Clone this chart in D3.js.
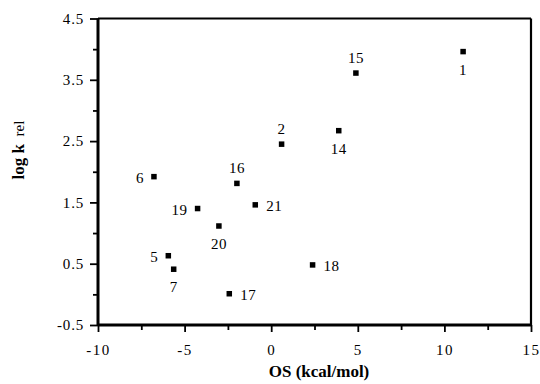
<!DOCTYPE html>
<html>
<head>
<meta charset="utf-8">
<script src="https://cdn.jsdelivr.net/npm/d3@7"></script>
<style>
html,body{margin:0;padding:0;background:#fff;}
svg{display:block;}
text{font-family:"Liberation Serif","Times New Roman",serif;fill:#000;}
</style>
</head>
<body>
<svg id="chart" width="540" height="384"></svg>
<script>
// Data
const ids      = ["1","15","2","14","6","16","19","21","20","5","7","17","18"];
const osValues = [11.08, 4.89, 0.6, 3.9, -6.77, -1.98, -4.25, -0.92, -3.02, -5.94, -5.63, -2.42, 2.39];
const logKrel  = [3.96, 3.61, 2.45, 2.67, 1.92, 1.81, 1.40, 1.46, 1.115, 0.63, 0.41, 0.01, 0.48];
const labelSide = ["below","above","above","below","left","above","left","right","below","left","below","right","right"];
const xTicks = [-10, -5, 0, 5, 10, 15];
const xMinorTicks = [-7.5, -2.5, 2.5, 7.5, 12.5];
const yTicks = [-0.5, 0.5, 1.5, 2.5, 3.5, 4.5];
const yMinorTicks = [0, 1, 2, 3, 4];

const svg = d3.select("#chart");
const L = 98, R = 531, T = 18.5, B = 325;
const x = d3.scaleLinear().domain([-10, 15]).range([L, R]);
const y = d3.scaleLinear().domain([-0.5, 4.5]).range([B, T]);
const fmt = d => String(d).replace("\u2212", "-");

// frame (top, right) and axes lines
svg.append("line").attr("x1", L).attr("x2", R).attr("y1", T).attr("y2", T)
  .attr("stroke", "#000").attr("stroke-width", 2.2);
svg.append("line").attr("x1", R).attr("x2", R).attr("y1", T).attr("y2", B)
  .attr("stroke", "#000").attr("stroke-width", 2.2);
svg.append("line").attr("x1", L).attr("x2", R).attr("y1", B).attr("y2", B)
  .attr("stroke", "#000").attr("stroke-width", 2.8);
svg.append("line").attr("x1", L).attr("x2", L).attr("y1", T).attr("y2", B)
  .attr("stroke", "#000").attr("stroke-width", 3);

// x axis ticks/labels
const xAxis = svg.append("g").attr("transform", `translate(0,${B})`)
  .call(d3.axisBottom(x).tickValues(xTicks).tickSize(7).tickSizeOuter(0).tickPadding(12).tickFormat(d => fmt(d)));
xAxis.select(".domain").remove();
xAxis.attr("font-family", null).attr("font-size", null);
xAxis.selectAll(".tick line").attr("stroke", "#000").attr("stroke-width", 1.8);
xAxis.selectAll("text").attr("font-size", 15).attr("letter-spacing", 1.5);
svg.append("g").attr("transform", `translate(0,${B})`)
  .call(d3.axisBottom(x).tickValues(xMinorTicks).tickSize(5).tickFormat(""))
  .call(g => g.select(".domain").remove())
  .selectAll(".tick line").attr("stroke", "#000").attr("stroke-width", 1.8);

// y axis ticks/labels
const yAxis = svg.append("g").attr("transform", `translate(${L},0)`)
  .call(d3.axisLeft(y).tickValues(yTicks).tickSize(8).tickSizeOuter(0).tickPadding(6).tickFormat(d => fmt(d.toFixed(1))));
yAxis.select(".domain").remove();
yAxis.attr("font-family", null).attr("font-size", null);
yAxis.selectAll(".tick line").attr("stroke", "#000").attr("stroke-width", 1.8);
yAxis.selectAll("text").attr("font-size", 15).attr("letter-spacing", 0.8);
svg.append("g").attr("transform", `translate(${L},0)`)
  .call(d3.axisLeft(y).tickValues(yMinorTicks).tickSize(5).tickFormat(""))
  .call(g => g.select(".domain").remove())
  .selectAll(".tick line").attr("stroke", "#000").attr("stroke-width", 1.8);

// points
const data = ids.map((id, i) => ({id, x: osValues[i], y: logKrel[i], side: labelSide[i]}));
const ms = 5.5;
svg.append("g").selectAll("rect").data(data).join("rect")
  .attr("x", d => x(d.x) - ms / 2).attr("y", d => y(d.y) - ms / 2)
  .attr("width", ms).attr("height", ms).attr("fill", "#000");

const off = {
  above: {dx: 0, dy: -10, anchor: "middle"},
  below: {dx: 0, dy: 23, anchor: "middle"},
  left:  {dx: -10, dy: 6, anchor: "end"},
  right: {dx: 11, dy: 6, anchor: "start"}
};
svg.append("g").selectAll("text").data(data).join("text")
  .attr("x", d => x(d.x) + off[d.side].dx)
  .attr("y", d => y(d.y) + off[d.side].dy)
  .attr("text-anchor", d => off[d.side].anchor)
  .attr("font-size", 15).attr("letter-spacing", 0.5)
  .text(d => d.id);

// axis titles
svg.append("text").attr("x", 319).attr("y", 377).attr("text-anchor", "middle")
  .attr("font-size", 17).attr("font-weight", "bold")
  .text("OS (kcal/mol)");
const yt = svg.append("text").attr("transform", "translate(24,150) rotate(-90)")
  .attr("text-anchor", "middle").attr("font-size", 17);
yt.append("tspan").attr("font-weight", "bold").text("log k");
yt.append("tspan").attr("font-weight", "normal").attr("font-size", 15).text("\u00a0\u00a0rel");
</script>
</body>
</html>
